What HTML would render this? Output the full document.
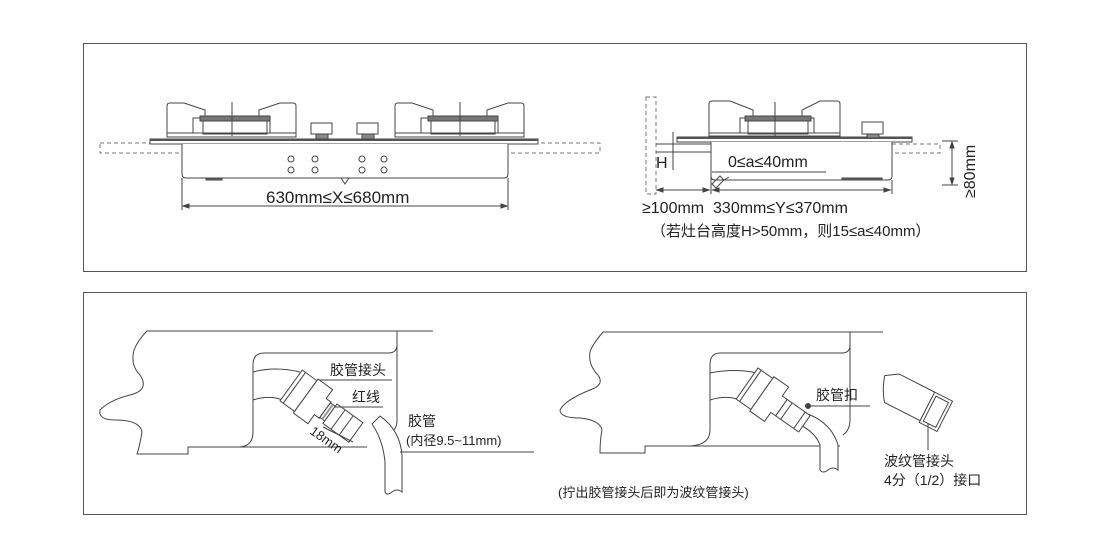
<!DOCTYPE html>
<html><head><meta charset="utf-8"><style>
html,body{margin:0;padding:0;background:#fff;width:1100px;height:550px;overflow:hidden}
svg{display:block}
text{font-family:"Liberation Sans","Noto Sans CJK SC",sans-serif;fill:#222}
</style></head><body>
<svg width="1100" height="550" viewBox="0 0 1100 550" xmlns="http://www.w3.org/2000/svg">
<g fill="none" stroke="#444" stroke-width="1">
<!-- frames -->
<rect x="83.5" y="43.5" width="943" height="228" stroke="#555"/>
<rect x="83.5" y="292.5" width="943" height="222" stroke="#555"/>

<!-- ===== top-left hob ===== -->
<rect x="100" y="143" width="500" height="10" stroke-dasharray="4,3" stroke="#777"/>
<rect x="150" y="139" width="388" height="5" fill="#fff"/>
<rect x="150" y="139" width="388" height="2" fill="#555" stroke="none"/>
<path d="M182 144 V174 Q182 178 186 178 H504 Q508 178 508 174 V144" fill="#fff"/>
<path d="M167 133 V106 Q167 103 170 103 H184 L205 110 V118 H193 V133 Z" fill="#fff"/>
<path d="M296 133 V106 Q296 103 293 103 H280 L259 110 V118 H270 V133 Z" fill="#fff"/>
<rect x="200" y="116" width="70" height="5" fill="#777"/>
<rect x="203" y="121" width="64" height="13"/>
<path d="M167 133 H296 V137 H167Z"/>
<line x1="232" y1="102" x2="232" y2="136"/>
<path d="M395 133 V106 Q395 103 398 103 H412 L433 110 V118 H421 V133 Z" fill="#fff"/>
<path d="M524 133 V106 Q524 103 521 103 H508 L487 110 V118 H498 V133 Z" fill="#fff"/>
<rect x="428" y="116" width="70" height="5" fill="#777"/>
<rect x="431" y="121" width="64" height="13"/>
<path d="M395 133 H524 V137 H395Z"/>
<line x1="460" y1="102" x2="460" y2="136"/>
<rect x="311" y="123" width="21" height="11"/><rect x="316" y="134" width="12" height="5" fill="#888"/>
<rect x="357" y="123" width="21" height="11"/><rect x="362" y="134" width="12" height="5" fill="#888"/>
<g>
<circle cx="291" cy="159" r="3"/><circle cx="315" cy="159" r="3"/><circle cx="362" cy="159" r="3"/><circle cx="384" cy="159" r="3"/>
<circle cx="291" cy="170" r="3"/><circle cx="315" cy="170" r="3"/><circle cx="362" cy="170" r="3"/><circle cx="384" cy="170" r="3"/>
</g>
<path d="M341 178 L345 184 L349 178"/>
<rect x="206" y="178" width="16" height="2" fill="#666"/>
<line x1="182" y1="178" x2="182" y2="210"/><line x1="508" y1="178" x2="508" y2="210"/>
<line x1="183" y1="206" x2="507" y2="206"/>
<path d="M183 206 l6 -2 v4z M507 206 l-6 -2 v4z" fill="#444"/>

<!-- ===== top-right hob ===== -->
<rect x="646" y="97" width="10" height="97" stroke-dasharray="4,3" stroke="#777"/>
<rect x="892" y="144" width="48" height="9" stroke-dasharray="4,3" stroke="#777"/>
<rect x="677" y="137" width="235" height="5" fill="#fff"/>
<rect x="677" y="137" width="235" height="2" fill="#555" stroke="none"/>
<path d="M711 142 V176 Q711 180 715 180 H888 Q892 180 892 176 V142" fill="#fff"/>
<line x1="656" y1="144" x2="711" y2="144"/><line x1="656" y1="152" x2="711" y2="152"/>
<path d="M709 133 V104 Q709 101 712 101 H730 L753 110 V118 H740 V133Z" fill="#fff"/>
<path d="M840 133 V104 Q840 101 837 101 H820 L802 110 V118 H814 V133Z" fill="#fff"/>
<rect x="745" y="116" width="66" height="5" fill="#777"/>
<rect x="748" y="121" width="60" height="13"/>
<path d="M709 133 H840 V136 H709Z"/>
<line x1="775" y1="102" x2="775" y2="136"/>
<rect x="862" y="122" width="21" height="12"/><rect x="867" y="134" width="12" height="4" fill="#888"/>
<rect x="842" y="178" width="40" height="2" fill="#666"/>
<path d="M712 184 l8 -8 l4 4 l-8 8z M724 180 l5 -3"/>
<line x1="673" y1="132" x2="673" y2="170"/>
<line x1="711" y1="144" x2="711" y2="194"/>
<line x1="892" y1="180" x2="892" y2="194"/>
<line x1="656" y1="190" x2="710" y2="190"/><line x1="712" y1="190" x2="891" y2="190"/>
<path d="M657 190 l6 -2 v4z M709 190 l-6 -2 v4z M713 190 l6 -2 v4z M890 190 l-6 -2 v4z" fill="#444"/>
<line x1="712" y1="172" x2="826" y2="172"/>
<line x1="942" y1="141" x2="958" y2="141"/><line x1="942" y1="185" x2="958" y2="185"/>
<line x1="952" y1="142" x2="952" y2="184"/>
<path d="M952 142 l-2 6 h4z M952 184 l-2 -6 h4z" fill="#444"/>

<!-- ===== bottom left ===== -->
<path d="M433 331 H147 Q138 340 134 350 Q130 365 140 375 Q150 390 130 395 Q110 400 100 410 Q98 420 115 420 Q140 420 142 432 Q140 445 137 454 H188 V447 H200"/>
<path d="M200 447 H367"/>
<path d="M397 331 V345 Q397 353 388 353 H264 Q253 353 253 365 V432 Q253 446 240 447"/>
<path d="M397 331 V420 Q397 430 390 432"/>
<path d="M253 372 Q275 366 300 372 M253 400 Q272 394 287 402"/>
<!-- fitting -->
<g transform="translate(296,389) rotate(36)">
<rect x="-6" y="-19" width="18" height="38" fill="#fff"/>
<line x1="-2" y1="-19" x2="-2" y2="19"/>
<path d="M12 -21 H30 V-10 H36 V10 H30 V21 H12 Z" fill="#fff"/>
<rect x="36" y="-9" width="6" height="18" fill="#fff"/>
<line x1="39" y1="-9" x2="39" y2="9" stroke="#999" stroke-width="2"/>
<rect x="42" y="-12" width="32" height="24" fill="#fff"/>
<line x1="52" y1="-12" x2="52" y2="12"/><line x1="62" y1="-12" x2="62" y2="12"/>
</g>
<path d="M372 424 L380 416 Q400 430 402 455 V492 Q397 488 392 492 Q387 496 385 492 V462 Q383 440 372 424Z" fill="#fff"/>
<line x1="319" y1="380" x2="392" y2="380"/>
<line x1="334" y1="407" x2="383" y2="407"/>
<line x1="400" y1="452" x2="534" y2="452"/>
<line x1="323" y1="427" x2="353" y2="442"/>

<!-- ===== bottom right ===== -->
<path d="M883 332 H603 Q592 345 590 352 Q588 365 598 375 Q605 385 590 390 Q565 400 560 410 Q560 418 580 418 Q600 420 602 430 Q600 440 600 453 H645 V446 H840"/>
<path d="M850 332 V345 Q850 353 842 353 H720 Q710 353 710 365 V430 Q710 445 690 446"/>
<path d="M850 332 V420 Q850 430 843 435"/>
<path d="M710 373 Q735 368 757 373 M710 400 Q730 394 744 402"/>
<path d="M795 410 Q830 418 838 445 V470 Q833 466 828 470 Q823 474 820 470 V445 Q815 430 790 420" fill="#fff"/>
<g transform="translate(752,387) rotate(35)">
<rect x="-6" y="-19" width="18" height="38" fill="#fff"/>
<line x1="-2" y1="-19" x2="-2" y2="19"/>
<path d="M12 -21 H30 V-10 H36 V10 H30 V21 H12 Z" fill="#fff"/>
<rect x="36" y="-10" width="28" height="20" fill="#fff"/>
<line x1="42" y1="-10" x2="42" y2="10"/><line x1="58" y1="-10" x2="58" y2="10"/>
</g>
<circle cx="808" cy="406" r="2.5" fill="#444"/>
<line x1="810" y1="406" x2="870" y2="406"/>
<g transform="translate(882,381) rotate(27)">
<path d="M0 -6 L12 -14 H52 V18 H12 Q4 8 0 -6Z" fill="#fff"/>
<rect x="52" y="-14" width="20" height="34" fill="#fff"/>
<rect x="55" y="-11" width="14" height="28"/>
</g>
<line x1="928" y1="424" x2="928" y2="450"/>
</g>

<!-- texts -->
<text x="266" y="203" font-size="17">630mm≤X≤680mm</text>
<text x="656" y="168" font-size="16">H</text>
<text x="728" y="167" font-size="16">0≤a≤40mm</text>
<text x="642" y="213" font-size="16">≥100mm&#160;&#160;330mm≤Y≤370mm</text>
<text x="651" y="236" font-size="15">（若灶台高度H&gt;50mm，则15≤a≤40mm）</text>
<text transform="translate(975,198) rotate(-90)" font-size="16">≥80mm</text>

<text x="330" y="375" font-size="14">胶管接头</text>
<text x="352" y="402" font-size="14">红线</text>
<text x="408" y="426" font-size="14">胶管</text>
<text x="406" y="445" font-size="13">(内径9.5~11mm)</text>
<text transform="translate(309,433) rotate(35)" font-size="13">18mm</text>
<text x="816" y="400" font-size="14">胶管扣</text>
<text x="884" y="466" font-size="14">波纹管接头</text>
<text x="884" y="485" font-size="14">4分（1/2）接口</text>
<text x="558" y="497" font-size="13">(拧出胶管接头后即为波纹管接头)</text>
</svg>
</body></html>
